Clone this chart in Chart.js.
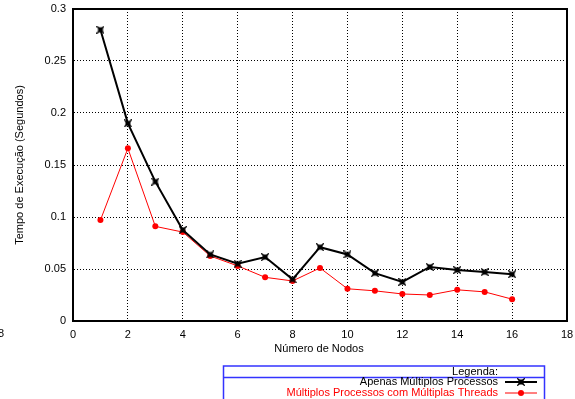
<!DOCTYPE html>
<html>
<head>
<meta charset="utf-8">
<script src="https://cdn.jsdelivr.net/npm/chart.js@4/dist/chart.umd.min.js"></script>
<style>
  html, body { margin: 0; padding: 0; background: #fff; }
  #wrap { width: 575px; height: 399px; }
</style>
</head>
<body>
<div id="wrap"><canvas id="chart" width="575" height="399"></canvas></div>
<script>
// data
const nodos = [1, 2, 3, 4, 5, 6, 7, 8, 9, 10, 11, 12, 13, 14, 15, 16];
const apenasProcessos = [0.280, 0.190, 0.134, 0.0875, 0.064, 0.055, 0.0615, 0.040, 0.071, 0.064, 0.046, 0.0375, 0.052, 0.049, 0.047, 0.045];
const processosThreads = [0.097, 0.166, 0.091, 0.0855, 0.0625, 0.053, 0.042, 0.0385, 0.051, 0.031, 0.029, 0.026, 0.025, 0.030, 0.028, 0.021];
const yTicks = [0, 0.05, 0.1, 0.15, 0.2, 0.25, 0.3];
const serieNomes = ['Apenas Múltiplos Processos', 'Múltiplos Processos com Múltiplas Threads'];

const FONT = '11px "Liberation Sans", Arial, sans-serif';

// crossed box marker like gnuplot
function boxMarker() {
  const c = document.createElement('canvas');
  c.width = 8; c.height = 8;
  const g = c.getContext('2d');
  g.fillStyle = '#000';
  g.fillRect(1.5, 1.5, 5, 5);
  g.strokeStyle = '#000';
  g.lineWidth = 1.3;
  g.beginPath();
  g.moveTo(0.3, 0.3); g.lineTo(7.7, 7.7);
  g.moveTo(7.7, 0.3); g.lineTo(0.3, 7.7);
  g.stroke();
  return c;
}
const marker = boxMarker();

function noPad(s) {
  s.paddingTop = 0; s.paddingBottom = 0;
  s.paddingLeft = 0; s.paddingRight = 0;
}

const extras = {
  id: 'extras',
  afterDraw(chart) {
    const ctx = chart.ctx;
    const a = chart.chartArea;
    ctx.save();
    // frame
    ctx.strokeStyle = '#000';
    ctx.lineWidth = 2;
    ctx.strokeRect(a.left, a.top, a.right - a.left, a.bottom - a.top);

    ctx.font = FONT;
    ctx.fillStyle = '#000';
    // stray clipped label at far left
    ctx.textAlign = 'right';
    ctx.textBaseline = 'middle';
    ctx.fillText('18', 4, 334);

    // axis titles
    ctx.textAlign = 'center';
    ctx.fillText('Número de Nodos', 319, 349);
    ctx.save();
    ctx.translate(20, 165);
    ctx.rotate(-Math.PI / 2);
    ctx.fillText('Tempo de Execução (Segundos)', 0, 0);
    ctx.restore();

    // legend box
    ctx.strokeStyle = '#3333ff';
    ctx.lineWidth = 1.5;
    ctx.strokeRect(223.5, 366, 321, 40);
    ctx.beginPath();
    ctx.moveTo(223.5, 377.5); ctx.lineTo(544.5, 377.5);
    ctx.stroke();
    ctx.textAlign = 'right';
    ctx.fillStyle = '#000';
    ctx.fillText('Legenda:', 498, 371.5);
    const ds = chart.data.datasets;
    const rows = [382, 393];
    ds.forEach((d, i) => {
      const y = rows[i];
      ctx.fillStyle = d.borderColor;
      ctx.fillText(d.label, 498, y);
      ctx.strokeStyle = d.borderColor;
      ctx.lineWidth = d.borderWidth;
      ctx.beginPath();
      ctx.moveTo(505, y); ctx.lineTo(537, y);
      ctx.stroke();
      if (i === 0) {
        ctx.drawImage(marker, 521 - 4, y - 4);
      } else {
        ctx.fillStyle = d.borderColor;
        ctx.beginPath();
        ctx.arc(521, y, 3, 0, Math.PI * 2);
        ctx.fill();
      }
    });
    ctx.restore();
  }
};

new Chart(document.getElementById('chart'), {
  type: 'line',
  data: {
    datasets: [
      {
        label: serieNomes[0],
        data: nodos.map((n, i) => ({ x: n, y: apenasProcessos[i] })),
        borderColor: '#000000',
        backgroundColor: '#000000',
        borderWidth: 2,
        pointStyle: marker,
        tension: 0
      },
      {
        label: serieNomes[1],
        data: nodos.map((n, i) => ({ x: n, y: processosThreads[i] })),
        borderColor: '#ff0000',
        backgroundColor: '#ff0000',
        borderWidth: 1,
        pointStyle: 'circle',
        pointRadius: 3,
        pointBorderWidth: 0,
        tension: 0
      }
    ]
  },
  options: {
    responsive: false,
    animation: false,
    layout: { padding: { top: 9, right: 8, left: 0, bottom: 0 } },
    plugins: { legend: { display: false }, tooltip: { enabled: false } },
    scales: {
      x: {
        type: 'linear',
        min: 0, max: 18,
        afterFit: s => { s.height = 78; noPad(s); },
        ticks: {
          stepSize: 2,
          color: '#000',
          font: { family: '"Liberation Sans", Arial, sans-serif', size: 11 },
          padding: 7
        },
        grid: {
          color: '#000',
          lineWidth: 1,
          drawTicks: false
        },
        border: { display: true, color: '#000', width: 2, dash: [1, 2] }
      },
      y: {
        min: 0, max: 0.3,
        afterFit: s => { s.width = 73; noPad(s); },
        afterBuildTicks: s => { s.ticks = yTicks.map(v => ({ value: v })); },
        ticks: {
          color: '#000',
          font: { family: '"Liberation Sans", Arial, sans-serif', size: 11 },
          padding: 7,
          callback: v => String(+v.toFixed(2))
        },
        grid: {
          color: '#000',
          lineWidth: 1,
          drawTicks: false
        },
        border: { display: true, color: '#000', width: 2, dash: [1, 2] }
      }
    }
  },
  plugins: [extras]
});
</script>
</body>
</html>
